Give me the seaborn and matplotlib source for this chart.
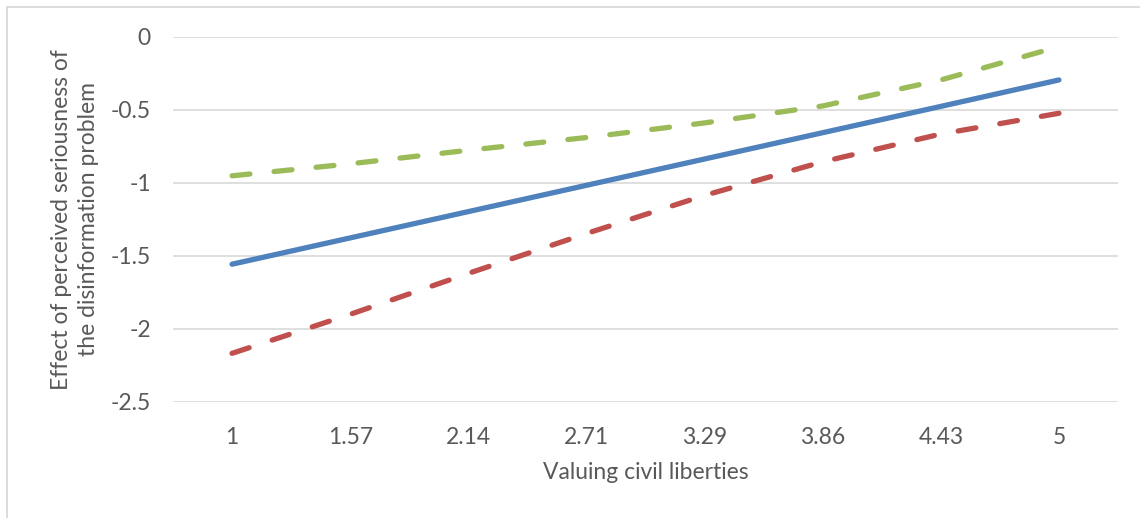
import matplotlib
matplotlib.use("Agg")
import matplotlib.pyplot as plt
import seaborn as sns
import pandas as pd
from matplotlib.patches import Rectangle

# Data
categories = ["1", "1.57", "2.14", "2.71", "3.29", "3.86", "4.43", "5"]
effect = [-1.557, -1.377, -1.197, -1.017, -0.837, -0.657, -0.477, -0.296]
lower_ci = [-2.167, -1.900, -1.620, -1.347, -1.086, -0.856, -0.666, -0.524]
upper_ci = [-0.952, -0.870, -0.777, -0.690, -0.590, -0.474, -0.296, -0.068]
y_ticks = [0, -0.5, -1, -1.5, -2, -2.5]
y_tick_labels = ["0", "-0.5", "-1", "-1.5", "-2", "-2.5"]

series_names = ["Effect", "Lower", "Upper"]
df = pd.concat([
    pd.DataFrame({"x": categories, "y": effect, "series": "Effect"}),
    pd.DataFrame({"x": categories, "y": lower_ci, "series": "Lower"}),
    pd.DataFrame({"x": categories, "y": upper_ci, "series": "Upper"}),
], ignore_index=True)

sns.set_theme(style="white")
plt.rcParams["font.family"] = ["Lato", "DejaVu Sans"]

fig = plt.figure(figsize=(11.4, 5.18), dpi=100)
ax = fig.add_axes([173 / 1140, 1 - 402 / 518, (1118 - 173) / 1140, (402 - 36.7) / 518])

# figure border (cut off at right & bottom like the reference)
fig.patches.append(Rectangle((7 / 1140, -0.1), 1.2, (518 - 7) / 518 + 0.1,
                             transform=fig.transFigure, fill=False,
                             edgecolor="#d9d9d9", linewidth=1.3, zorder=0))

palette = {"Effect": "#4F81BD", "Lower": "#C0504D", "Upper": "#9BBB59"}
dashes = {"Effect": "", "Lower": (3.4, 4.6), "Upper": (3.4, 4.6)}

sns.lineplot(data=df, x="x", y="y", hue="series", style="series",
             hue_order=series_names, style_order=series_names,
             palette=palette, dashes=dashes, linewidth=3.8,
             dash_capstyle="round", solid_capstyle="round",
             legend=False, ax=ax, sort=False)

fs = 16.5
ax.set_xlim(-0.5, len(categories) - 0.5)
ax.set_ylim(-2.5, 0)
ax.set_yticks(y_ticks)
ax.set_yticklabels(y_tick_labels)
ax.yaxis.grid(True, color="#d9d9d9", linewidth=1.2)
ax.xaxis.grid(False)
for s in ax.spines.values():
    s.set_visible(False)
ax.tick_params(axis="both", length=0, labelsize=fs, colors="#595959")
ax.tick_params(axis="y", pad=16)
ax.tick_params(axis="x", pad=18)

ax.set_xlabel("Valuing civil liberties", fontsize=fs, color="#595959", labelpad=10)
ax.set_ylabel("Effect of perceived seriousness of\nthe disinformation problem",
              fontsize=fs, color="#595959", labelpad=8, linespacing=1.4)

fig.savefig("out.png", dpi=100)
